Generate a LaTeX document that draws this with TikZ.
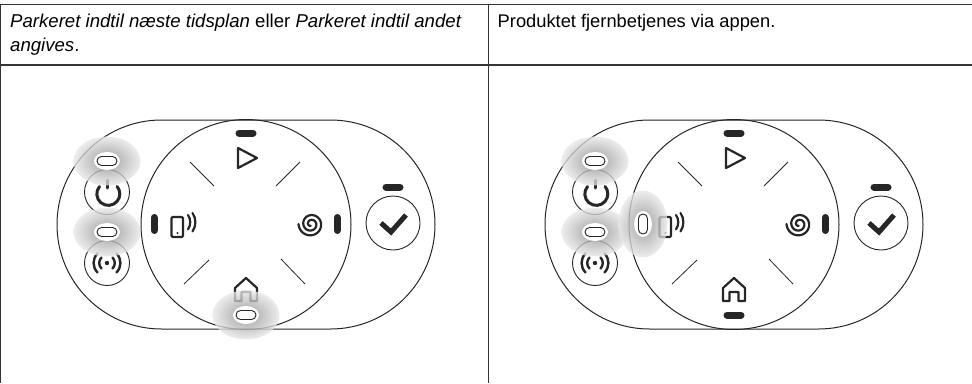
\documentclass[tikz,border=0pt]{standalone}
\usepackage{fontspec}
\setmainfont{Liberation Sans}
\tikzset{
  rule/.style={line width=1.3pt,draw=black!80},
  outline/.style={line width=1pt,draw=black!85},
  tick/.style={line width=0.8pt,draw=black!85},
  ring/.style={line width=0.9pt,draw=black!85},
  icon/.style={line width=2.2pt,draw=black!85,line cap=round,line join=round},
  barline/.style={line width=7pt,draw=black!85,line cap=round},
  halo/.style={inner color=black!48,outer color=black!9,opacity=.78},
  txt/.style={anchor=base west,inner sep=0pt,font=\fontsize{18.6}{22}\selectfont},
  txtb/.style={anchor=base west,inner sep=0pt,font=\fontsize{18.3}{22}\selectfont},
}
% common parts of one control panel
\newcommand{\panelbase}{%
  \draw[outline] (161.5,120) -- (330.5,120) arc[start angle=-90,end angle=90,radius=104.5] -- (161.5,329) arc[start angle=90,end angle=270,radius=104.5] -- cycle;
  \draw[outline] (246,224.5) circle[radius=105];
  \draw[ring] (107,192) circle[radius=22.5];
  \draw[ring] (107,263) circle[radius=22.5];
  \draw[ring] (393,223) circle[radius=27];
  \draw[tick] (190,162) -- (214,186);
  \draw[tick] (300,162) -- (276,186);
  \draw[tick] (209,260) -- (184,284);
  \draw[tick] (281,259) -- (305,284);
  % power icon
  \draw[icon,line width=3pt] (107,180.5) -- (107,188);
  \draw[icon,line width=3pt] (99.5,186.5) arc[start angle=-140,end angle=-400,radius=11.5];
  % signal icon
  \fill[black!85] (107,263) circle[radius=2.2];
  \draw[icon,line width=2.4pt] (101.5,257.5) arc[start angle=-135,end angle=-225,radius=7.8];
  \draw[icon,line width=2.4pt] (112.5,257.5) arc[start angle=-45,end angle=45,radius=7.8];
  \draw[icon,line width=2.4pt] (97.5,253.5) arc[start angle=-135,end angle=-225,radius=13.4];
  \draw[icon,line width=2.4pt] (116.5,253.5) arc[start angle=-45,end angle=45,radius=13.4];
  % play
  \draw[icon] (238,148) -- (257,158) -- (238,168) -- cycle;
  \draw[barline] (239,133) -- (253,133);
  % spiral
  \draw[icon] plot[variable=\t,domain=0:800,samples=90,smooth]
     ({311+(12.5-\t*0.0133)*cos(180+\t)},{224+(12.5-\t*0.0133)*sin(180+\t)*-1});
  \draw[barline] (337,217.5) -- (337,230.5);
  % check
  \draw[barline] (386,187) -- (400,187);
  \draw[icon,line width=5pt,line cap=butt,line join=miter] (381,223) -- (391,232) -- (406,215);
  % phone
  \draw[icon,rounded corners=1.2pt] (171.5,217) rectangle (183,237);
  \fill[black!85] (177.5,233) circle[radius=1.2];
  \draw[icon] (188,215) arc[start angle=-35,end angle=35,radius=12.5];
  \draw[icon] (192.5,213) arc[start angle=-35,end angle=35,radius=16];
  % home
  \draw[icon] (235,301) -- (235,288) -- (246,278) -- (257,288) -- (257,301) -- (250.5,301) -- (250.5,292) -- (241.5,292) -- (241.5,301) -- cycle;
}
\newcommand{\pressH}[2]{%
  \shade[halo] (#1,#2) ellipse[x radius=33.5,y radius=24.5];
  \fill[white] (#1,#2) ellipse[x radius=13,y radius=9];
  \draw[ring,rounded corners=4.5pt] ({#1-10},{#2-4.5}) rectangle ({#1+10},{#2+4.5});
}
\newcommand{\pressV}[2]{%
  \shade[halo] (#1,#2) ellipse[x radius=24.5,y radius=33.5];
  \fill[white] (#1,#2) ellipse[x radius=9,y radius=13];
  \draw[ring,rounded corners=4.5pt] ({#1-4.5},{#2-10}) rectangle ({#1+4.5},{#2+10});
}
\begin{document}
\begin{tikzpicture}[x=1pt,y=-1pt]
\useasboundingbox (0,0) rectangle (972,383);
% table rules
\draw[rule] (0,4.5) -- (972,4.5);
\draw[rule] (0,65) -- (972,65);
\draw[rule] (0.6,4) -- (0.6,383);
\draw[rule] (488.3,4) -- (488.3,383);
% cell texts
\node[txt] (t1) at (10,27.5) {\itshape Parkeret indtil næste tidsplan\/ \upshape eller \itshape Parkeret indtil andet};
\node[txt] (t2) at (10,51) {\itshape angives\upshape .};
\node[txtb] (t3) at (497.5,27.5) {Produktet fjernbetjenes via appen.};
% left panel
\begin{scope}
  \panelbase
  \draw[barline] (154,217.5) -- (154,230.5);
  \pressH{107}{161}
  \pressH{107}{232}
  \pressH{246}{315}
\end{scope}
% right panel
\begin{scope}[xshift=488pt]
  \panelbase
  \draw[barline] (239,315) -- (253,315);
  \pressH{107}{161}
  \pressH{107}{232}
  \pressV{155}{224}
\end{scope}
\end{tikzpicture}
\end{document}
